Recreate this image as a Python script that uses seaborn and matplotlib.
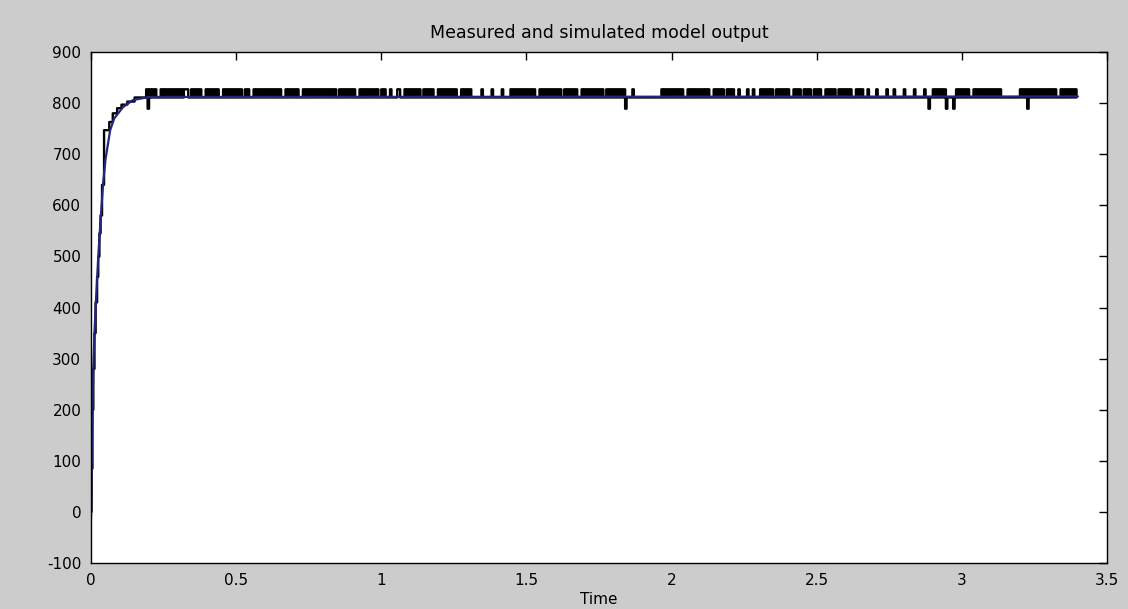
import numpy as np
import pandas as pd
import seaborn as sns
import matplotlib
matplotlib.use("Agg")
import matplotlib.pyplot as plt

# simulated model output (blue)
sim_t = [0, 0.002, 0.004, 0.008, 0.012, 0.016, 0.025, 0.033, 0.042, 0.05, 0.066, 0.08, 0.11, 0.145, 0.2, 3.4]
sim_y = [-15, 80, 160, 284, 350, 402, 500, 571, 645, 690, 747, 770, 792, 806, 812, 813]

# measured output, rising part (staircase)
rise_t = [0, 0.002, 0.005, 0.008, 0.012, 0.016, 0.021, 0.025, 0.029, 0.033, 0.038, 0.045,
          0.063, 0.075, 0.09, 0.105, 0.125, 0.15]
rise_y = [0, 85, 200, 280, 350, 410, 460, 500, 545, 580, 640, 747,
          763, 780, 790, 797, 803, 811]

# measured output after t=0.19: one char per 5 ms, 0=low, 1=high, d=dip
pattern_start = 0.19
pattern_step = 0.005
pattern_levels = {"0": 811, "1": 827, "d": 789}
pattern = (
    "1d101010001010101010"
    "10101011100101010100"
    "01010101010001010101"
    "01010100101000101010"
    "10101010101010001010"
    "10101000101010101010"
    "10101010101001010101"
    "01010001010101010101"
    "00101000100001100010"
    "10101010100101010100"
    "01010101010101000101"
    "01010000000100000010"
    "00000100000101010101"
    "01010101000101010101"
    "01010100101010101000"
    "10101010101010100101"
    "0101010101d000010000"
    "00000000000000010101"
    "01010101010001010101"
    "01010101000101010100"
    "10101000100000100010"
    "00010101010100101010"
    "10100010101001010100"
    "10101000101010100101"
    "01010100010101000100"
    "00010000001000010000"
    "0010000001000000100d"
    "00101010101d0000d010"
    "10101010001010101010"
    "10101010100000000000"
    "0010101d101010101010"
    "10101010001010101010"
    "10"
)

x_ticks = [0, 0.5, 1, 1.5, 2, 2.5, 3, 3.5]
x_tick_labels = ["0", "0.5", "1", "1.5", "2", "2.5", "3", "3.5"]
y_ticks = [-100, 0, 100, 200, 300, 400, 500, 600, 700, 800, 900]

pat_t = [pattern_start + i * pattern_step for i in range(len(pattern))]
pat_y = [pattern_levels[c] for c in pattern]
meas = pd.DataFrame({"t": rise_t + pat_t, "y": rise_y + pat_y})
sim = pd.DataFrame({"t": sim_t, "y": sim_y})

sns.set_style("white")
plt.rcParams["font.family"] = ["DejaVu Sans"]
plt.rcParams["axes.unicode_minus"] = False
plt.rcParams["text.color"] = "black"

fig = plt.figure(figsize=(11.28, 6.09), dpi=100, facecolor="#cccccc")
ax = fig.add_axes([91 / 1128, 1 - 563 / 609, (1107 - 91) / 1128, (563 - 52) / 609])
ax.set_facecolor("white")

sns.lineplot(data=meas, x="t", y="y", color="black", lw=1.7, drawstyle="steps-post",
             estimator=None, ax=ax)
sns.lineplot(data=sim, x="t", y="y", color="#25257f", lw=1.6, estimator=None, ax=ax)

ax.set_xlim(0, 3.5)
ax.set_ylim(-100, 900)
ax.set_xticks(x_ticks)
ax.set_xticklabels(x_tick_labels)
ax.set_yticks(y_ticks)
ax.tick_params(direction="in", length=6, width=1, colors="black", labelsize=11,
               top=True, right=True, pad=7)
for s in ax.spines.values():
    s.set_color("black")
    s.set_linewidth(1)

ax.set_ylabel("")
ax.set_xlabel("Time", fontsize=11, color="black")
ax.xaxis.set_label_coords(0.5, -0.057)
ax.xaxis.label.set_va("top")
ax.set_title("Measured and simulated model output", fontsize=12.5, pad=10, color="black")

fig.savefig("out.png", dpi=100, facecolor=fig.get_facecolor())
